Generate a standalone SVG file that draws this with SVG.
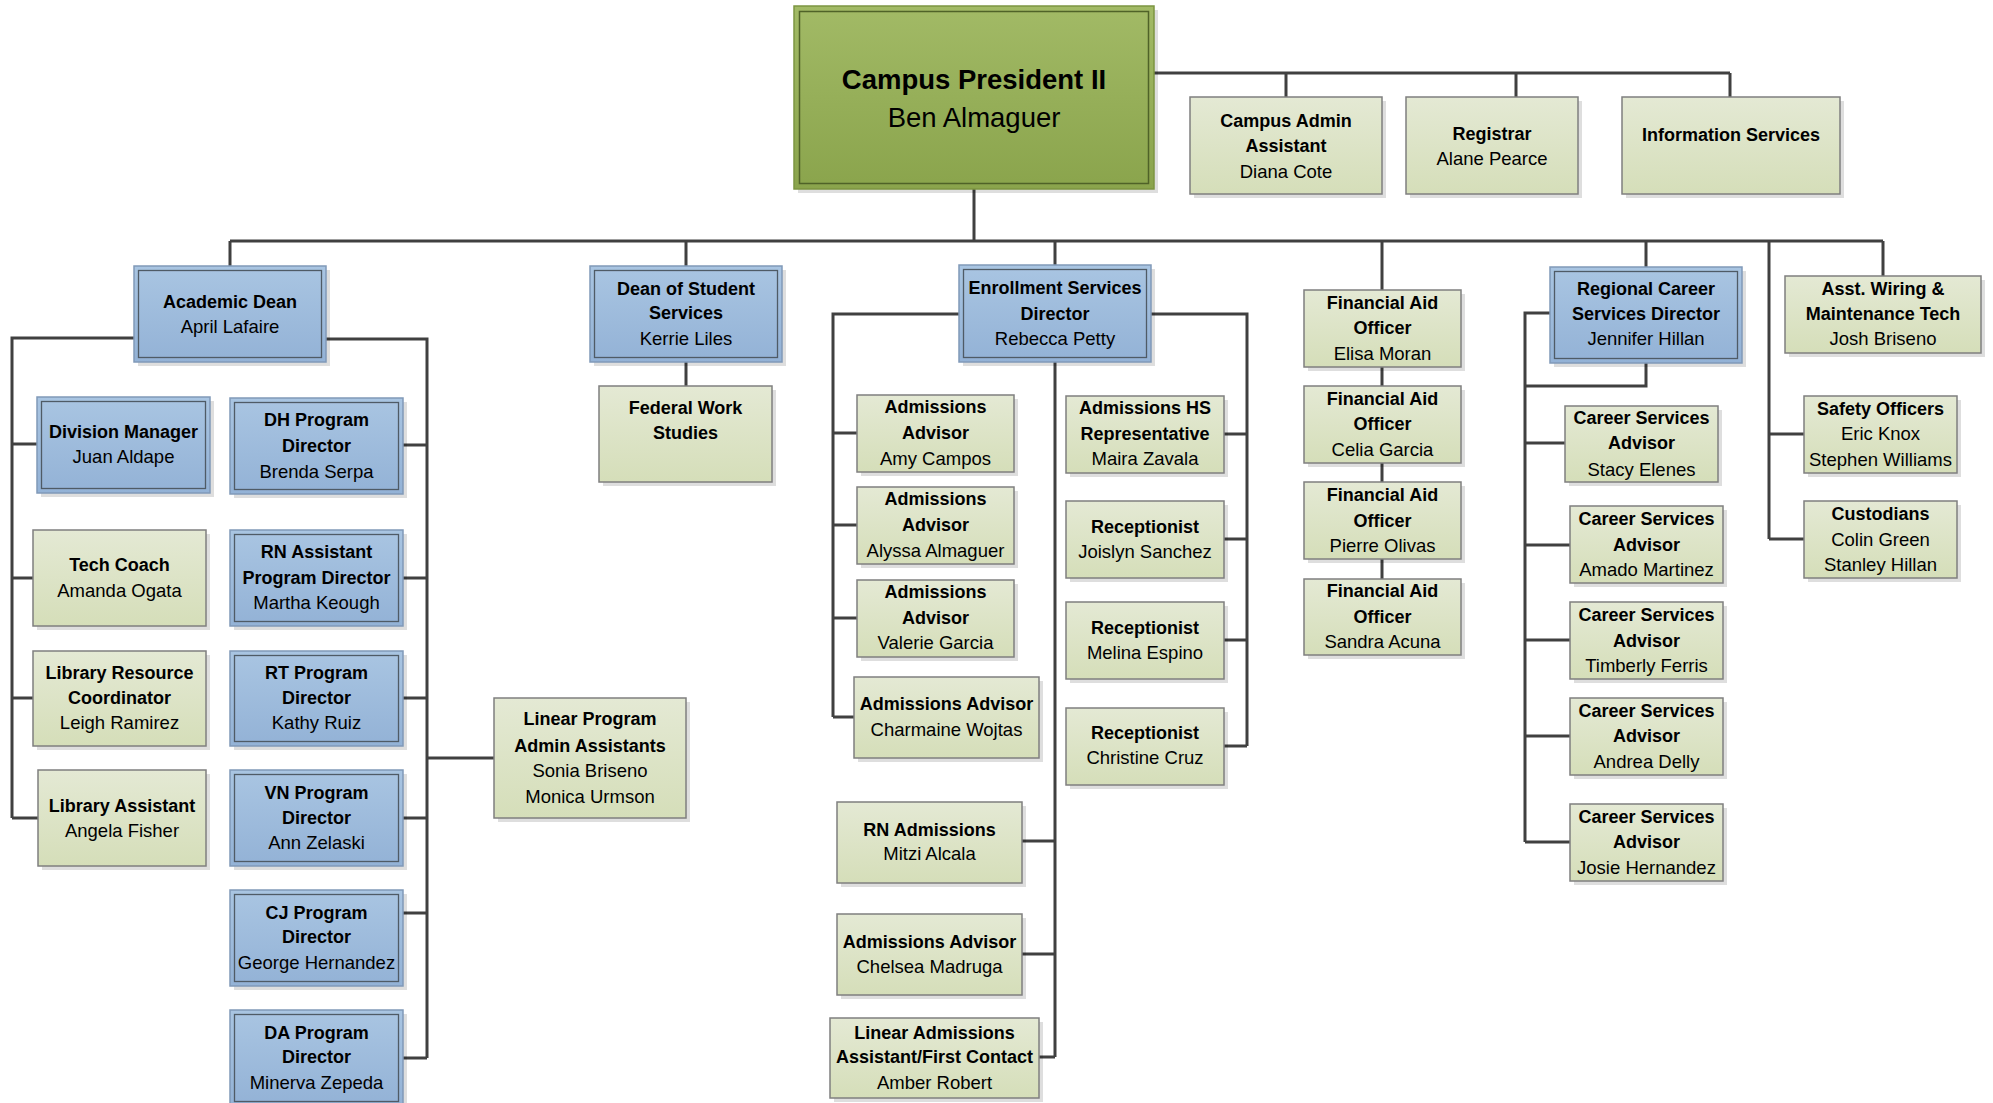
<svg xmlns="http://www.w3.org/2000/svg" width="1993" height="1103" viewBox="0 0 1993 1103">
<defs>
<linearGradient id="gBlue" x1="0" y1="0" x2="0" y2="1"><stop offset="0" stop-color="#a9c5e2"/><stop offset="1" stop-color="#93b2d6"/></linearGradient>
<linearGradient id="gGreen" x1="0" y1="0" x2="0" y2="1"><stop offset="0" stop-color="#e4e9d4"/><stop offset="1" stop-color="#d5deb9"/></linearGradient>
<linearGradient id="gPres" x1="0" y1="0" x2="0" y2="1"><stop offset="0" stop-color="#a2ba66"/><stop offset="1" stop-color="#8aa44c"/></linearGradient>
</defs>
<style>
.sh{fill:#000;opacity:.13}
.bo{fill:url(#gBlue);stroke:#8099b8;stroke-width:1.5}
.bi{fill:none;stroke:#4f5b66;stroke-width:1.3}
.gr{fill:url(#gGreen);stroke:#7f7f7f;stroke-width:1.5}
.po{fill:url(#gPres);stroke:#7c9541;stroke-width:1.5}
.pi{fill:none;stroke:#4f6228;stroke-width:1.5}
text{font-family:"Liberation Sans",Arial,sans-serif;font-size:18.5px;fill:#000;text-anchor:middle;transform:translateY(-1.5px)}
.b{font-weight:bold;font-size:18px}
text.tp{font-size:27.5px}
#connectors path{fill:none;stroke:#404040;stroke-width:3}
</style>
<rect width="1993" height="1103" fill="#fff"/>

<g id="connectors">
<path d="M1154,73 H1730 M1286,73 V97 M1516,73 V97 M1730,73 V97"/>
<path d="M974,189 V241 M230,241 H1883 M230,241 V266 M686,241 V266 M1055,241 V265 M1382,241 V290 M1646,241 V267 M1769,241 V539 M1883,241 V276"/>
<path d="M134,338 H12 V818 M12,444 H37 M12,578 H33 M12,698 H33 M12,818 H38"/>
<path d="M326,339 H427 V1058 M403,445 H427 M403,578 H427 M403,698 H427 M403,818 H427 M403,913 H427 M403,1058 H427 M427,758 H494"/>
<path d="M686,362 V386"/>
<path d="M959,314 H833 V717 M833,433 H857 M833,525 H857 M833,618 H857 M833,717 H854"/>
<path d="M1151,314 H1247 V746 M1224,434 H1247 M1224,539 H1247 M1224,640 H1247 M1224,746 H1247"/>
<path d="M1055,362 V1057 M1022,841 H1055 M1022,954 H1055 M1039,1057 H1055"/>
<path d="M1382,367 V386 M1382,463 V482 M1382,559 V579"/>
<path d="M1550,313 H1525 V842 M1646,363 V386 H1525 M1525,443 H1565 M1525,545 H1570 M1525,640 H1570 M1525,736 H1570 M1525,842 H1570"/>
<path d="M1769,434 H1804 M1769,539 H1804"/>
</g>

<g id="president">
<rect class="sh" x="798" y="10" width="360" height="183"/>
<rect class="po" x="794" y="6" width="360" height="183"/>
<rect class="pi" x="799.5" y="11.5" width="349" height="172"/>
<text class="b tp" x="974" y="90">Campus President II</text>
<text class="tp" x="974" y="128">Ben Almaguer</text>
</g>

<g id="campus-admin">
<rect class="sh" x="1194" y="101" width="192" height="97"/>
<rect class="gr" x="1190" y="97" width="192" height="97"/>
<text class="b" x="1286" y="128">Campus Admin</text>
<text class="b" x="1286" y="153">Assistant</text>
<text x="1286" y="179">Diana Cote</text>
</g>
<g id="registrar">
<rect class="sh" x="1410" y="101" width="172" height="97"/>
<rect class="gr" x="1406" y="97" width="172" height="97"/>
<text class="b" x="1492" y="141">Registrar</text>
<text x="1492" y="166">Alane Pearce</text>
</g>
<g id="info-services">
<rect class="sh" x="1626" y="101" width="218" height="97"/>
<rect class="gr" x="1622" y="97" width="218" height="97"/>
<text class="b" x="1731" y="142">Information Services</text>
</g>

<g id="academic-dean">
<rect class="sh" x="138" y="270" width="192" height="96"/>
<rect class="bo" x="134" y="266" width="192" height="96"/>
<rect class="bi" x="138.5" y="270.5" width="183" height="87"/>
<text class="b" x="230" y="309">Academic Dean</text>
<text x="230" y="334">April Lafaire</text>
</g>
<g id="dean-student">
<rect class="sh" x="594" y="270" width="192" height="96"/>
<rect class="bo" x="590" y="266" width="192" height="96"/>
<rect class="bi" x="594.5" y="270.5" width="183" height="87"/>
<text class="b" x="686" y="296">Dean of Student</text>
<text class="b" x="686" y="320">Services</text>
<text x="686" y="346">Kerrie Liles</text>
</g>
<g id="federal-work">
<rect class="sh" x="603" y="390" width="173" height="96"/>
<rect class="gr" x="599" y="386" width="173" height="96"/>
<text class="b" x="685.5" y="415">Federal Work</text>
<text class="b" x="685.5" y="440">Studies</text>
</g>
<g id="enrollment">
<rect class="sh" x="963" y="269" width="192" height="97"/>
<rect class="bo" x="959" y="265" width="192" height="97"/>
<rect class="bi" x="963.5" y="269.5" width="183" height="88"/>
<text class="b" x="1055" y="295">Enrollment Services</text>
<text class="b" x="1055" y="321">Director</text>
<text x="1055" y="346">Rebecca Petty</text>
</g>
<g id="fa-moran">
<rect class="sh" x="1308" y="294" width="157" height="77"/>
<rect class="gr" x="1304" y="290" width="157" height="77"/>
<text class="b" x="1382.5" y="310">Financial Aid</text>
<text class="b" x="1382.5" y="335">Officer</text>
<text x="1382.5" y="361">Elisa Moran</text>
</g>
<g id="fa-garcia">
<rect class="sh" x="1308" y="390" width="157" height="77"/>
<rect class="gr" x="1304" y="386" width="157" height="77"/>
<text class="b" x="1382.5" y="406">Financial Aid</text>
<text class="b" x="1382.5" y="431">Officer</text>
<text x="1382.5" y="457">Celia Garcia</text>
</g>
<g id="fa-olivas">
<rect class="sh" x="1308" y="486" width="157" height="77"/>
<rect class="gr" x="1304" y="482" width="157" height="77"/>
<text class="b" x="1382.5" y="502">Financial Aid</text>
<text class="b" x="1382.5" y="528">Officer</text>
<text x="1382.5" y="553">Pierre Olivas</text>
</g>
<g id="fa-acuna">
<rect class="sh" x="1308" y="583" width="157" height="76"/>
<rect class="gr" x="1304" y="579" width="157" height="76"/>
<text class="b" x="1382.5" y="598">Financial Aid</text>
<text class="b" x="1382.5" y="624">Officer</text>
<text x="1382.5" y="649">Sandra Acuna</text>
</g>
<g id="regional-career">
<rect class="sh" x="1554" y="271" width="192" height="96"/>
<rect class="bo" x="1550" y="267" width="192" height="96"/>
<rect class="bi" x="1554.5" y="271.5" width="183" height="87"/>
<text class="b" x="1646" y="296">Regional Career</text>
<text class="b" x="1646" y="321">Services Director</text>
<text x="1646" y="346">Jennifer Hillan</text>
</g>
<g id="asst-wiring">
<rect class="sh" x="1789" y="280" width="196" height="77"/>
<rect class="gr" x="1785" y="276" width="196" height="77"/>
<text class="b" x="1883" y="296">Asst. Wiring &amp;</text>
<text class="b" x="1883" y="321">Maintenance Tech</text>
<text x="1883" y="346">Josh Briseno</text>
</g>

<g id="division-manager">
<rect class="sh" x="41" y="401" width="173" height="96"/>
<rect class="bo" x="37" y="397" width="173" height="96"/>
<rect class="bi" x="41.5" y="401.5" width="164" height="87"/>
<text class="b" x="123.5" y="439">Division Manager</text>
<text x="123.5" y="464">Juan Aldape</text>
</g>
<g id="dh-program">
<rect class="sh" x="234" y="402" width="173" height="96"/>
<rect class="bo" x="230" y="398" width="173" height="96"/>
<rect class="bi" x="234.5" y="402.5" width="164" height="87"/>
<text class="b" x="316.5" y="427">DH Program</text>
<text class="b" x="316.5" y="453">Director</text>
<text x="316.5" y="479">Brenda Serpa</text>
</g>
<g id="tech-coach">
<rect class="sh" x="37" y="534" width="173" height="96"/>
<rect class="gr" x="33" y="530" width="173" height="96"/>
<text class="b" x="119.5" y="572">Tech Coach</text>
<text x="119.5" y="598">Amanda Ogata</text>
</g>
<g id="rn-assistant">
<rect class="sh" x="234" y="534" width="173" height="96"/>
<rect class="bo" x="230" y="530" width="173" height="96"/>
<rect class="bi" x="234.5" y="534.5" width="164" height="87"/>
<text class="b" x="316.5" y="559">RN Assistant</text>
<text class="b" x="316.5" y="585">Program Director</text>
<text x="316.5" y="610">Martha Keough</text>
</g>
<g id="library-resource">
<rect class="sh" x="37" y="655" width="173" height="95"/>
<rect class="gr" x="33" y="651" width="173" height="95"/>
<text class="b" x="119.5" y="680">Library Resource</text>
<text class="b" x="119.5" y="705">Coordinator</text>
<text x="119.5" y="730">Leigh Ramirez</text>
</g>
<g id="rt-program">
<rect class="sh" x="234" y="655" width="173" height="95"/>
<rect class="bo" x="230" y="651" width="173" height="95"/>
<rect class="bi" x="234.5" y="655.5" width="164" height="86"/>
<text class="b" x="316.5" y="680">RT Program</text>
<text class="b" x="316.5" y="705">Director</text>
<text x="316.5" y="730">Kathy Ruiz</text>
</g>
<g id="library-assistant">
<rect class="sh" x="42" y="774" width="168" height="96"/>
<rect class="gr" x="38" y="770" width="168" height="96"/>
<text class="b" x="122" y="813">Library Assistant</text>
<text x="122" y="838">Angela Fisher</text>
</g>
<g id="vn-program">
<rect class="sh" x="234" y="774" width="173" height="96"/>
<rect class="bo" x="230" y="770" width="173" height="96"/>
<rect class="bi" x="234.5" y="774.5" width="164" height="87"/>
<text class="b" x="316.5" y="800">VN Program</text>
<text class="b" x="316.5" y="825">Director</text>
<text x="316.5" y="850">Ann Zelaski</text>
</g>
<g id="cj-program">
<rect class="sh" x="234" y="894" width="173" height="96"/>
<rect class="bo" x="230" y="890" width="173" height="96"/>
<rect class="bi" x="234.5" y="894.5" width="164" height="87"/>
<text class="b" x="316.5" y="920">CJ Program</text>
<text class="b" x="316.5" y="944">Director</text>
<text x="316.5" y="970">George Hernandez</text>
</g>
<g id="da-program">
<rect class="sh" x="234" y="1014" width="173" height="96"/>
<rect class="bo" x="230" y="1010" width="173" height="96"/>
<rect class="bi" x="234.5" y="1014.5" width="164" height="87"/>
<text class="b" x="316.5" y="1040">DA Program</text>
<text class="b" x="316.5" y="1064">Director</text>
<text x="316.5" y="1090">Minerva Zepeda</text>
</g>
<g id="linear-program">
<rect class="sh" x="498" y="702" width="192" height="120"/>
<rect class="gr" x="494" y="698" width="192" height="120"/>
<text class="b" x="590" y="726">Linear Program</text>
<text class="b" x="590" y="753">Admin Assistants</text>
<text x="590" y="778">Sonia Briseno</text>
<text x="590" y="804">Monica Urmson</text>
</g>

<g id="adm-campos">
<rect class="sh" x="861" y="399" width="157" height="77"/>
<rect class="gr" x="857" y="395" width="157" height="77"/>
<text class="b" x="935.5" y="414">Admissions</text>
<text class="b" x="935.5" y="440">Advisor</text>
<text x="935.5" y="466">Amy Campos</text>
</g>
<g id="adm-almaguer">
<rect class="sh" x="861" y="491" width="157" height="77"/>
<rect class="gr" x="857" y="487" width="157" height="77"/>
<text class="b" x="935.5" y="506">Admissions</text>
<text class="b" x="935.5" y="532">Advisor</text>
<text x="935.5" y="558">Alyssa Almaguer</text>
</g>
<g id="adm-garcia">
<rect class="sh" x="861" y="584" width="157" height="77"/>
<rect class="gr" x="857" y="580" width="157" height="77"/>
<text class="b" x="935.5" y="599">Admissions</text>
<text class="b" x="935.5" y="625">Advisor</text>
<text x="935.5" y="650">Valerie Garcia</text>
</g>
<g id="adm-wojtas">
<rect class="sh" x="858" y="681" width="185" height="81"/>
<rect class="gr" x="854" y="677" width="185" height="81"/>
<text class="b" x="946.5" y="711">Admissions Advisor</text>
<text x="946.5" y="737">Charmaine Wojtas</text>
</g>
<g id="adm-hs">
<rect class="sh" x="1070" y="400" width="158" height="77"/>
<rect class="gr" x="1066" y="396" width="158" height="77"/>
<text class="b" x="1145" y="415">Admissions HS</text>
<text class="b" x="1145" y="441">Representative</text>
<text x="1145" y="466">Maira Zavala</text>
</g>
<g id="rec-sanchez">
<rect class="sh" x="1070" y="505" width="158" height="77"/>
<rect class="gr" x="1066" y="501" width="158" height="77"/>
<text class="b" x="1145" y="534">Receptionist</text>
<text x="1145" y="559">Joislyn Sanchez</text>
</g>
<g id="rec-espino">
<rect class="sh" x="1070" y="606" width="158" height="77"/>
<rect class="gr" x="1066" y="602" width="158" height="77"/>
<text class="b" x="1145" y="635">Receptionist</text>
<text x="1145" y="660">Melina Espino</text>
</g>
<g id="rec-cruz">
<rect class="sh" x="1070" y="712" width="158" height="77"/>
<rect class="gr" x="1066" y="708" width="158" height="77"/>
<text class="b" x="1145" y="740">Receptionist</text>
<text x="1145" y="765">Christine Cruz</text>
</g>
<g id="rn-admissions">
<rect class="sh" x="841" y="806" width="185" height="81"/>
<rect class="gr" x="837" y="802" width="185" height="81"/>
<text class="b" x="929.5" y="837">RN Admissions</text>
<text x="929.5" y="861">Mitzi Alcala</text>
</g>
<g id="adm-madruga">
<rect class="sh" x="841" y="918" width="185" height="81"/>
<rect class="gr" x="837" y="914" width="185" height="81"/>
<text class="b" x="929.5" y="949">Admissions Advisor</text>
<text x="929.5" y="974">Chelsea Madruga</text>
</g>
<g id="linear-admissions">
<rect class="sh" x="834" y="1022" width="209" height="80"/>
<rect class="gr" x="830" y="1018" width="209" height="80"/>
<text class="b" x="934.5" y="1040">Linear Admissions</text>
<text class="b" x="934.5" y="1064">Assistant/First Contact</text>
<text x="934.5" y="1090">Amber Robert</text>
</g>

<g id="csa-elenes">
<rect class="sh" x="1569" y="410" width="153" height="76"/>
<rect class="gr" x="1565" y="406" width="153" height="76"/>
<text class="b" x="1641.5" y="425">Career Services</text>
<text class="b" x="1641.5" y="450">Advisor</text>
<text x="1641.5" y="477">Stacy Elenes</text>
</g>
<g id="csa-martinez">
<rect class="sh" x="1574" y="510" width="153" height="77"/>
<rect class="gr" x="1570" y="506" width="153" height="77"/>
<text class="b" x="1646.5" y="526">Career Services</text>
<text class="b" x="1646.5" y="552">Advisor</text>
<text x="1646.5" y="577">Amado Martinez</text>
</g>
<g id="csa-ferris">
<rect class="sh" x="1574" y="606" width="153" height="77"/>
<rect class="gr" x="1570" y="602" width="153" height="77"/>
<text class="b" x="1646.5" y="622">Career Services</text>
<text class="b" x="1646.5" y="648">Advisor</text>
<text x="1646.5" y="673">Timberly Ferris</text>
</g>
<g id="csa-delly">
<rect class="sh" x="1574" y="702" width="153" height="77"/>
<rect class="gr" x="1570" y="698" width="153" height="77"/>
<text class="b" x="1646.5" y="718">Career Services</text>
<text class="b" x="1646.5" y="743">Advisor</text>
<text x="1646.5" y="769">Andrea Delly</text>
</g>
<g id="csa-hernandez">
<rect class="sh" x="1574" y="808" width="153" height="77"/>
<rect class="gr" x="1570" y="804" width="153" height="77"/>
<text class="b" x="1646.5" y="824">Career Services</text>
<text class="b" x="1646.5" y="849">Advisor</text>
<text x="1646.5" y="875">Josie Hernandez</text>
</g>
<g id="safety-officers">
<rect class="sh" x="1808" y="400" width="153" height="77"/>
<rect class="gr" x="1804" y="396" width="153" height="77"/>
<text class="b" x="1880.5" y="416">Safety Officers</text>
<text x="1880.5" y="441">Eric Knox</text>
<text x="1880.5" y="467">Stephen Williams</text>
</g>
<g id="custodians">
<rect class="sh" x="1808" y="505" width="153" height="77"/>
<rect class="gr" x="1804" y="501" width="153" height="77"/>
<text class="b" x="1880.5" y="521">Custodians</text>
<text x="1880.5" y="547">Colin Green</text>
<text x="1880.5" y="572">Stanley Hillan</text>
</g>
</svg>
